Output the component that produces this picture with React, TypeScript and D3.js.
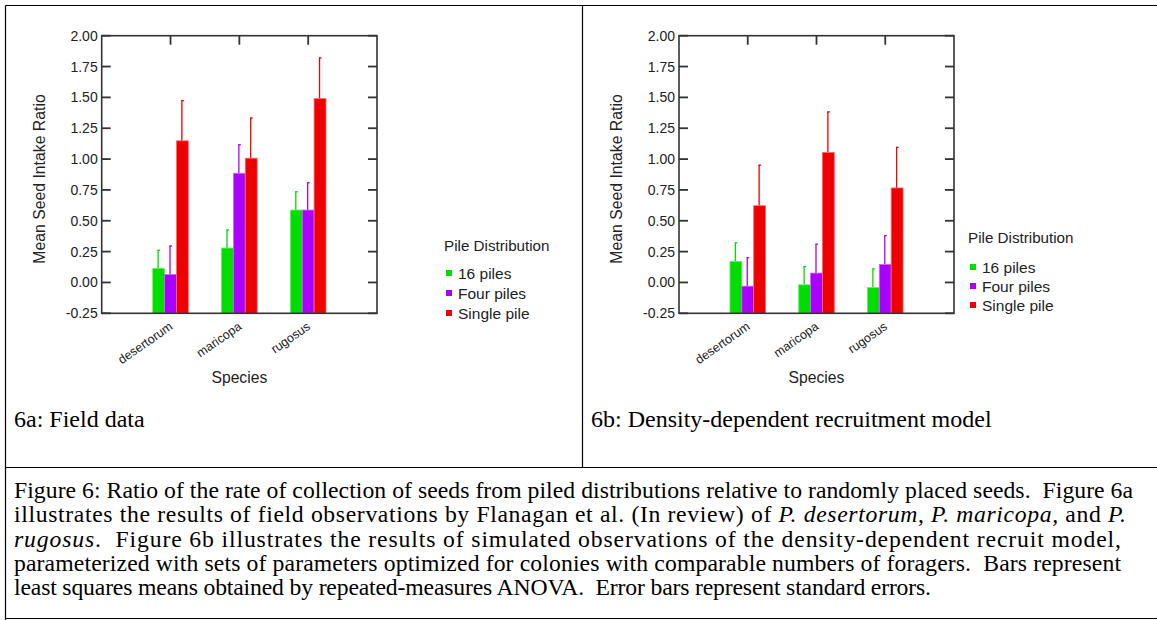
import React from "react";
import * as d3 from "d3";

const categories = ["desertorum", "maricopa", "rugosus"];
const seriesNames = ["16 piles", "Four piles", "Single pile"];
const seriesColors = ["#00dd00", "#aa00ff", "#ee0000"];
const seriesEdge = ["#66ee66", "#cc66ff", "#ff6666"];

// Panel 6a: field data (means and standard errors, per series)
const fieldMean16 = [0.114, 0.279, 0.587];
const fieldMeanFour = [0.065, 0.885, 0.587];
const fieldMeanSingle = [1.148, 1.007, 1.49];
const fieldSE16 = [0.151, 0.151, 0.152];
const fieldSEFour = [0.235, 0.235, 0.225];
const fieldSESingle = [0.33, 0.33, 0.334];

// Panel 6b: density-dependent recruitment model
const modelMean16 = [0.171, -0.019, -0.041];
const modelMeanFour = [-0.03, 0.076, 0.146];
const modelMeanSingle = [0.622, 1.053, 0.766];
const modelSE16 = [0.154, 0.151, 0.155];
const modelSEFour = [0.235, 0.238, 0.238];
const modelSESingle = [0.333, 0.333, 0.333];

const yTicks = [-0.25, 0, 0.25, 0.5, 0.75, 1.0, 1.25, 1.5, 1.75, 2.0];

const SANS = "'Liberation Sans', Arial, sans-serif";
const SERIF = "'Liberation Serif', 'Times New Roman', serif";

type PanelProps = {
  left: number;
  right: number;
  top: number;
  bottom: number;
  means: number[][];
  ses: number[][];
  legendX: number;
  legendTitleY: number;
  legendItemY: number;
  legendStep: number;
  caption: string;
  captionX: number;
};

function Panel(p: PanelProps) {
  const x = d3.scaleLinear().domain([0, categories.length + 1]).range([p.left, p.right]);
  const y = d3.scaleLinear().domain([-0.25, 2.0]).range([p.bottom, p.top]);
  const groupW = 35.6;
  const band = d3
    .scaleBand<number>()
    .domain(d3.range(seriesNames.length))
    .range([-groupW / 2, groupW / 2]);
  const frame = "#333";
  return (
    <g>
      {p.means.map((vals, si) =>
        vals.map((v, ci) => {
          const cx = x(ci + 1);
          const bx = cx + (band(si) as number);
          const bw = band.bandwidth();
          const top = y(v);
          const errTop = y(v + p.ses[si][ci]);
          const ex = bx + bw / 2 - 0.5;
          return (
            <g key={`b${si}-${ci}`}>
              <line x1={ex} x2={ex} y1={top} y2={errTop} stroke={seriesColors[si]} strokeWidth={1.3} />
              <line x1={ex - 0.5} x2={ex + 2} y1={errTop + 0.5} y2={errTop + 0.5} stroke={seriesColors[si]} strokeWidth={1.3} />
              <rect x={bx} y={top} width={bw} height={p.bottom - top} fill={seriesColors[si]} stroke={seriesEdge[si]} strokeWidth={0.8} />
            </g>
          );
        })
      )}
      <rect x={p.left} y={p.top} width={p.right - p.left} height={p.bottom - p.top} fill="none" stroke={frame} strokeWidth={1.6} />
      {yTicks.map((t) => (
        <g key={`t${t}`}>
          <line x1={p.left} x2={p.left + 9} y1={y(t)} y2={y(t)} stroke={frame} strokeWidth={1.8} />
          <line x1={p.right - 9} x2={p.right} y1={y(t)} y2={y(t)} stroke={frame} strokeWidth={1.8} />
          <text x={p.left - 4} y={y(t)} dy="0.36em" textAnchor="end" fontFamily={SANS} fontSize={14} fill="#222">
            {t.toFixed(2)}
          </text>
        </g>
      ))}
      {categories.map((c, i) => (
        <line key={`ct${c}`} x1={x(i + 1)} x2={x(i + 1)} y1={p.top} y2={p.top + 9} stroke={frame} strokeWidth={1.8} />
      ))}
      {categories.map((c, i) => (
        <text
          key={`cl${c}`}
          transform={`translate(${x(i + 1) + 3},${p.bottom + 15}) rotate(-35)`}
          textAnchor="end"
          fontFamily={SANS}
          fontSize={12.5}
          fill="#222"
        >
          {c}
        </text>
      ))}
      <text x={(p.left + p.right) / 2} y={p.bottom + 70} textAnchor="middle" fontFamily={SANS} fontSize={15.7} fill="#222">
        Species
      </text>
      <text
        transform={`translate(${p.left - 57},179) rotate(-90)`}
        textAnchor="middle"
        fontFamily={SANS}
        fontSize={15.8}
        fill="#222"
      >
        Mean Seed Intake Ratio
      </text>
      <text x={p.legendX} y={p.legendTitleY} dy="0.36em" fontFamily={SANS} fontSize={15.2} fill="#222">
        Pile Distribution
      </text>
      {seriesNames.map((s, i) => (
        <g key={`lg${s}`}>
          <rect x={p.legendX + 2} y={p.legendItemY + i * p.legendStep - 3} width={6} height={6} fill={seriesColors[i]} />
          <text x={p.legendX + 14} y={p.legendItemY + i * p.legendStep} dy="0.36em" fontFamily={SANS} fontSize={15.5} fill="#222">
            {s}
          </text>
        </g>
      ))}
      <text x={p.captionX} y={427} fontFamily={SERIF} fontSize={24} fill="#000">
        {p.caption}
      </text>
    </g>
  );
}

export default function App() {
  const captionLines: { parts: { t: string; i?: boolean }[]; len?: number }[] = [
    { parts: [{ t: "Figure 6: Ratio of the rate of collection of seeds from piled distributions relative to randomly placed seeds.  Figure 6a" }], len: 1119 },
    {
      parts: [
        { t: "illustrates the results of field observations by Flanagan et al. (In review) of " },
        { t: "P. desertorum", i: true },
        { t: ", " },
        { t: "P. maricopa,", i: true },
        { t: " and " },
        { t: "P.", i: true },
      ],
      len: 1112,
    },
    {
      parts: [
        { t: "rugosus", i: true },
        { t: ".  Figure 6b illustrates the results of simulated observations of the density-dependent recruit model," },
      ],
      len: 1107,
    },
    { parts: [{ t: "parameterized with sets of parameters optimized for colonies with comparable numbers of foragers.  Bars represent" }], len: 1107 },
    { parts: [{ t: "least squares means obtained by repeated-measures ANOVA.  Error bars represent standard errors." }], len: 917 },
  ];
  const lineY = [498, 522, 547, 571, 595];
  return (
    <div style={{ position: "fixed", left: 0, top: 0 }}>
      <svg width={1157} height={620} style={{ display: "block", background: "#fff" }}>
        <rect x={0} y={0} width={1157} height={620} fill="#fff" />
        <g stroke="#000" strokeWidth={1.2} fill="none">
          <line x1={5.5} x2={1157} y1={5.5} y2={5.5} />
          <line x1={5.5} x2={5.5} y1={5.5} y2={620} />
          <line x1={582.5} x2={582.5} y1={5.5} y2={467.5} />
          <line x1={5.5} x2={1157} y1={467.5} y2={467.5} />
          <line x1={5.5} x2={1157} y1={618.5} y2={618.5} />
        </g>
        <Panel
          left={101.7}
          right={377}
          top={35.7}
          bottom={313.3}
          means={[fieldMean16, fieldMeanFour, fieldMeanSingle]}
          ses={[fieldSE16, fieldSEFour, fieldSESingle]}
          legendX={444}
          legendTitleY={246}
          legendItemY={273}
          legendStep={20}
          caption="6a: Field data"
          captionX={14}
        />
        <Panel
          left={679}
          right={954}
          top={35.7}
          bottom={313.3}
          means={[modelMean16, modelMeanFour, modelMeanSingle]}
          ses={[modelSE16, modelSEFour, modelSESingle]}
          legendX={968}
          legendTitleY={238}
          legendItemY={267}
          legendStep={19}
          caption="6b: Density-dependent recruitment model"
          captionX={591}
        />
        {captionLines.map((ln, li) => (
          <text
            key={`cap${li}`}
            x={14}
            y={lineY[li]}
            fontFamily={SERIF}
            fontSize={23.7}
            fill="#000"
            textLength={ln.len}
            lengthAdjust="spacing"
            style={{ whiteSpace: "pre" }}
          >
            {ln.parts.map((pt, k) => (
              <tspan key={k} fontStyle={pt.i ? "italic" : "normal"}>
                {pt.t}
              </tspan>
            ))}
          </text>
        ))}
      </svg>
    </div>
  );
}
